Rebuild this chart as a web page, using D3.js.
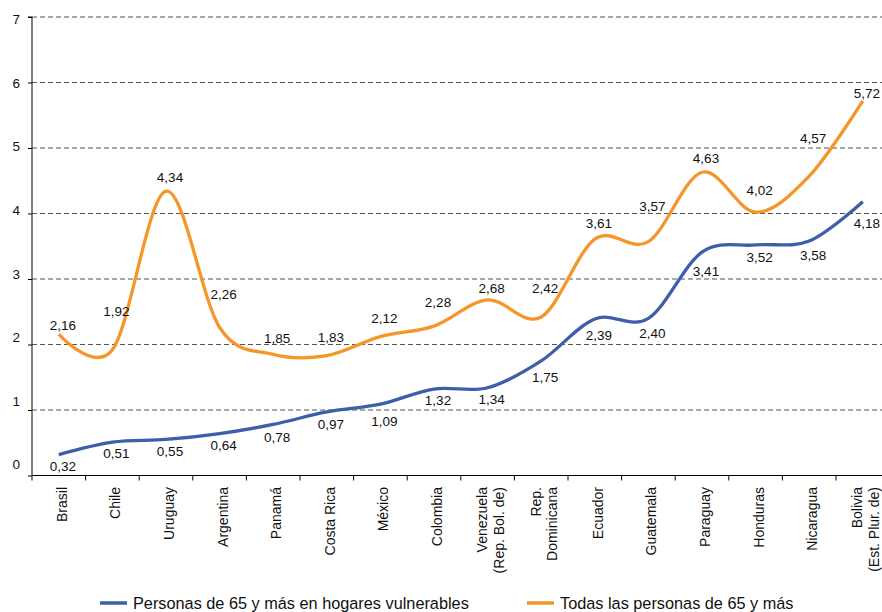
<!DOCTYPE html>
<html>
<head>
<meta charset="utf-8">
<script src="https://cdn.jsdelivr.net/npm/d3@7/dist/d3.min.js"></script>
<style>
  html, body { margin: 0; padding: 0; background: #fff; }
  svg { display: block; font-family: "Liberation Sans", Arial, Helvetica, sans-serif; }
</style>
</head>
<body>
<svg id="chart" width="882" height="612"></svg>
<script>
// Countries (multi-line names split with "\n")
const countries = [
  "Brasil", "Chile", "Uruguay", "Argentina", "Panamá", "Costa Rica", "México",
  "Colombia", "Venezuela\n(Rep. Bol. de)", "Rep.\nDominicana", "Ecuador",
  "Guatemala", "Paraguay", "Honduras", "Nicaragua", "Bolivia\n(Est. Plur. de)"
];
// Personas de 65 y más en hogares vulnerables
const vulnerables = [0.32, 0.51, 0.55, 0.64, 0.78, 0.97, 1.09, 1.32, 1.34, 1.75, 2.39, 2.40, 3.41, 3.52, 3.58, 4.18];
// Todas las personas de 65 y más
const todas = [2.16, 1.92, 4.34, 2.26, 1.85, 1.83, 2.12, 2.28, 2.68, 2.42, 3.61, 3.57, 4.63, 4.02, 4.57, 5.72];
const yTicks = [0, 1, 2, 3, 4, 5, 6, 7];
const seriesNames = ["Personas de 65 y más en hogares vulnerables", "Todas las personas de 65 y más"];

// Vertical placement of each value label relative to its point (px)
const todasLabelShift = [-9, -38, -14, -33, -16, -18, -18, -24, -12, -29, -16, -35, -14, -22, -38, -8];
const vulnerLabelShift = [12, 11, 12, 12, 13, 12, 17, 11, 12, 16, 16, 15, 19, 12, 14, 22];

const BLUE = "#3d5ea8";
const ORANGE = "#f5962a";
const fmt = v => d3.format(".2f")(v).replace(".", ",");

const svg = d3.select("#chart");

const x = d3.scaleBand().domain(countries).range([32, 889.6]).paddingInner(0).paddingOuter(0);
const y = d3.scaleLinear().domain([0, 7]).range([475.5, 17]);
// Tick numbers sit on a slightly compressed scale beside the axis
const yLabel = d3.scaleLinear().domain([0, 7]).range([464.5, 19.5]);
const cx = c => x(c) + x.bandwidth() / 2;

// Dashed gridlines
svg.append("g").selectAll("line")
  .data(yTicks.filter(t => t > 0))
  .join("line")
  .attr("x1", 32).attr("x2", 882)
  .attr("y1", d => y(d)).attr("y2", d => y(d))
  .attr("stroke", "#555").attr("stroke-width", 1)
  .attr("stroke-dasharray", "5,3");

// Y axis
const yAxis = svg.append("g").attr("transform", "translate(32,0)")
  .call(d3.axisLeft(y).tickValues(yTicks).tickSize(4).tickFormat(""));
yAxis.select(".domain").attr("stroke", "#000").attr("d", `M-4,${y(7)}H0V${y(0)}`);
yAxis.selectAll(".tick line").attr("stroke", "#000");

svg.append("g").selectAll("text")
  .data(yTicks)
  .join("text")
  .attr("x", 20).attr("y", d => yLabel(d)).attr("dy", "0.35em")
  .attr("text-anchor", "end")
  .attr("font-size", 13.5).attr("fill", "#111")
  .text(d => d);

// X axis with ticks on category boundaries
const xAxis = svg.append("g").attr("transform", `translate(0,${y(0)})`);
xAxis.append("line").attr("x1", 32).attr("x2", 882).attr("stroke", "#000").attr("stroke-width", 1);
xAxis.selectAll("line.tk")
  .data(countries)
  .join("line").attr("class", "tk")
  .attr("x1", d => x(d)).attr("x2", d => x(d))
  .attr("y1", 0).attr("y2", 5)
  .attr("stroke", "#000");

// Rotated category labels
const catLabels = svg.append("g").selectAll("text")
  .data(countries)
  .join("text")
  .attr("transform", d => `translate(${cx(d) + 3},487) rotate(-90)`)
  .attr("text-anchor", "end")
  .attr("font-size", 14).attr("fill", "#111");
catLabels.each(function (d) {
  const lines = d.split("\n");
  const step = 16.5;
  const start = -(lines.length - 1) * step / 2;
  d3.select(this).selectAll("tspan")
    .data(lines)
    .join("tspan")
    .attr("x", 0)
    .attr("y", (l, i) => start + i * step)
    .attr("dy", "0.35em")
    .text(l => l);
});

// Lines
const line = d3.line()
  .x((d, i) => cx(countries[i]))
  .y(d => y(d))
  .curve(d3.curveCardinal.tension(0));

svg.append("path").datum(todas)
  .attr("d", line).attr("fill", "none")
  .attr("stroke", ORANGE).attr("stroke-width", 3.3)
  .attr("stroke-linejoin", "round");
svg.append("path").datum(vulnerables)
  .attr("d", line).attr("fill", "none")
  .attr("stroke", BLUE).attr("stroke-width", 3.3)
  .attr("stroke-linejoin", "round");

// Value labels
function valueLabels(values, shifts) {
  svg.append("g").selectAll("text")
    .data(values)
    .join("text")
    .attr("x", (d, i) => cx(countries[i]) + 4)
    .attr("y", (d, i) => y(d) + shifts[i])
    .attr("dy", "0.35em")
    .attr("text-anchor", "middle")
    .attr("font-size", 13.5).attr("fill", "#111")
    .text(d => fmt(d));
}
valueLabels(todas, todasLabelShift);
valueLabels(vulnerables, vulnerLabelShift);

// Legend
const legend = svg.append("g");
const legendItems = [
  { name: seriesNames[0], color: BLUE, x0: 100 },
  { name: seriesNames[1], color: ORANGE, x0: 527 }
];
legendItems.forEach(it => {
  legend.append("line")
    .attr("x1", it.x0).attr("x2", it.x0 + 27)
    .attr("y1", 603).attr("y2", 603)
    .attr("stroke", it.color).attr("stroke-width", 3.5);
  legend.append("text")
    .attr("x", it.x0 + 33).attr("y", 603).attr("dy", "0.35em")
    .attr("font-size", 16.3).attr("fill", "#111")
    .text(it.name);
});
</script>
</body>
</html>
